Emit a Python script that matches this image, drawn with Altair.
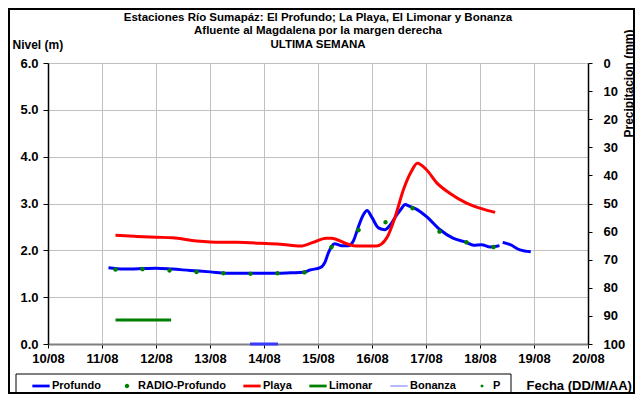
import math
import altair as alt
import pandas as pd

# ---------------- data ----------------
# Profundo water level (m); day of August (fractional)
prof1_day = [11.12, 11.4, 11.75, 12.0, 12.3, 12.63, 13.0, 13.31, 13.86, 14.25, 14.5, 14.73,
             14.85, 15.04, 15.13, 15.19, 15.25, 15.31, 15.43, 15.56, 15.65, 15.75, 15.84,
             15.91, 15.99, 16.12, 16.24, 16.33, 16.46, 16.55, 16.61, 16.70, 16.82, 17.01,
             17.26, 17.50, 17.75, 17.88, 18.03, 18.19, 18.36]
prof1_val = [1.63, 1.60, 1.61, 1.62, 1.60, 1.57, 1.54, 1.51, 1.51, 1.51, 1.52, 1.53,
             1.58, 1.63, 1.75, 1.94, 2.08, 2.14, 2.10, 2.10, 2.19, 2.51, 2.76,
             2.85, 2.72, 2.48, 2.44, 2.53, 2.76, 2.90, 2.98, 2.94, 2.88, 2.72,
             2.44, 2.26, 2.17, 2.11, 2.12, 2.07, 2.10]
prof2_day = [18.42, 18.56, 18.74, 18.94]
prof2_val = [2.17, 2.12, 2.01, 1.97]

# RADIO-Profundo readings
radio_day = [11.25, 11.75, 12.25, 12.75, 13.25, 13.75, 14.25, 14.75, 15.25, 15.75,
             16.25, 16.75, 17.25, 17.75, 18.25]
radio_val = [1.59, 1.60, 1.57, 1.54, 1.51, 1.50, 1.51, 1.53, 2.07, 2.43,
             2.60, 2.90, 2.40, 2.17, 2.07]

# Playa
playa_day = [11.25, 11.6, 12.0, 12.3, 12.75, 13.0, 13.5, 13.93, 14.3, 14.67, 14.91,
             15.15, 15.25, 15.53, 15.72, 16.08, 16.27, 16.43, 16.58, 16.73, 16.84,
             17.01, 17.20, 17.44, 17.75, 18.06, 18.28]
playa_val = [2.32, 2.30, 2.28, 2.27, 2.20, 2.18, 2.17, 2.15, 2.13, 2.09, 2.17,
             2.26, 2.26, 2.14, 2.09, 2.09, 2.26, 2.72, 3.29, 3.69, 3.86,
             3.72, 3.44, 3.22, 3.01, 2.88, 2.81]

# Limonar
limonar_day = [11.25, 11.75, 12.28]
limonar_val = [0.51, 0.51, 0.51]

# Bonanza
bonanza_day = [13.74, 14.26]
bonanza_val = [0.0, 0.0]

# P (precipitation, mm) - no readings in the week
p_day = []
p_mm = []

series = ["Profundo", "RADIO-Profundo", "Playa", "Limonar", "Bonanza", "P"]
series_colors = ["#0000ff", "#008000", "#ff0000", "#008000", "#5a5aff", "#008000"]
line_series = ["Profundo", "Playa", "Limonar", "Bonanza"]
line_colors = ["#0000ff", "#ff0000", "#008000", "#3a3aff"]
line_widths = [3, 3, 3, 1]
x_ticks = list(range(10, 21))
y_ticks = [i * 0.5 for i in range(13)]
p_ticks = list(range(0, 101, 10))

title_lines = ["Estaciones Río Sumapáz: El Profundo; La Playa, El Limonar y Bonanza",
               "Afluente al Magdalena por la margen derecha",
               "ULTIMA SEMANA"]

FONT = "Liberation Sans"

# ---------------- tables ----------------
def rows(name, seg, days, vals):
    return [{"serie": name, "seg": seg, "day": d, "nivel": v} for d, v in zip(days, vals)]

lines_df = pd.DataFrame(
    rows("Limonar", 1, limonar_day, limonar_val)
    + rows("Bonanza", 1, bonanza_day, bonanza_val)
    + rows("Profundo", 1, prof1_day, prof1_val)
    + rows("Profundo", 2, prof2_day, prof2_val)
    + rows("Playa", 1, playa_day, playa_val)
)
radio_df = pd.DataFrame({"serie": ["RADIO-Profundo"] * len(radio_day),
                         "day": radio_day, "nivel": radio_val})
p_df = pd.DataFrame({"day": pd.Series(p_day, dtype=float), "mm": pd.Series(p_mm, dtype=float)})

# legend symbol shapes (normalised paths)
def poly(r, n=16):
    pts = [(r * math.cos(2 * math.pi * k / n), r * math.sin(2 * math.pi * k / n)) for k in range(n)]
    return "M" + "L".join(f"{x:.3f},{y:.3f}" for x, y in pts) + "Z"

thick = "M-1,-0.16L1,-0.16L1,0.16L-1,0.16Z"
thin = "M-1,-0.05L1,-0.05L1,0.05L-1,0.05Z"
shape_range = [thick, poly(0.26), thick, thick, thin, poly(0.17)]

color_scale = alt.Scale(domain=series, range=series_colors)
legend = alt.Legend(title=None, orient="none", legendX=-16, legendY=314,
                    direction="horizontal", columns=6, symbolSize=300,
                    symbolStrokeWidth=0, labelFont=FONT, labelFontSize=11,
                    labelFontWeight="bold", labelColor="black", labelOffset=2,
                    columnPadding=17, padding=0, labelLimit=200)

x_enc = alt.X("day:Q", scale=alt.Scale(domain=[10, 20], nice=False, zero=False),
              axis=alt.Axis(values=x_ticks, labelExpr="datum.value + '/08'",
                            grid=True, gridColor="#c0c0c0", gridWidth=1,
                            domainColor="#808080", domainWidth=2,
                            tickColor="black", tickSize=4, labelPadding=4,
                            labelFontSize=13, labelFlush=False,
                            title="Fecha (DD/M/AA)", titleX=478, titleY=41,
                            titleAlign="left", titleBaseline="middle",
                            titleFontSize=13))
y_enc = alt.Y("nivel:Q", scale=alt.Scale(domain=[0, 6], nice=False),
              axis=alt.Axis(values=y_ticks,
                            labelExpr="datum.value % 1 === 0 ? format(datum.value, '.1f') : ''",
                            grid=True, gridColor="#c0c0c0", gridWidth=1,
                            tickOpacity={"condition": {"test": "datum.value % 1 === 0", "value": 1}, "value": 0},
                            tickSize=5, tickColor="black", domainColor="black",
                            domainWidth=1.5, labelPadding=5, labelFontSize=13,
                            labelFlush=False,
                            title="Nivel (m)", titleAngle=0, titleX=-36, titleY=-19,
                            titleAlign="left", titleBaseline="middle", titleFontSize=12))

lines = alt.Chart(lines_df).mark_line(interpolate="monotone").encode(
    x=x_enc, y=y_enc,
    stroke=alt.Stroke("serie:N", scale=alt.Scale(domain=line_series, range=line_colors),
                      legend=None),
    strokeWidth=alt.StrokeWidth("serie:N",
                                scale=alt.Scale(domain=line_series, range=line_widths),
                                legend=None),
    detail="seg:N",
)

radio = alt.Chart(radio_df).mark_point(filled=True, opacity=1, size=300, strokeWidth=0).encode(
    x="day:Q", y="nivel:Q",
    color=alt.Color("serie:N", scale=color_scale, legend=legend),
    shape=alt.Shape("serie:N", scale=alt.Scale(domain=series, range=shape_range), legend=legend),
)

legend_box = alt.Chart(alt.Data(values=[{"k": 1}])).mark_rect(
    fill="transparent", stroke="black", strokeWidth=1
).encode(x=alt.value(-32), x2=alt.value(463), y=alt.value(311), y2=alt.value(330))

outer = alt.Chart(alt.Data(values=[{"k": 1}])).mark_rect(
    fill="transparent", stroke="black", strokeWidth=2
).encode(x=alt.value(-39), x2=alt.value(586), y=alt.value(-54), y2=alt.value(330))

levels = alt.layer(lines, radio, legend_box, outer)

precip = alt.Chart(p_df).mark_point(filled=True, color="#008000", opacity=1, size=10).encode(
    x="day:Q",
    y=alt.Y("mm:Q", scale=alt.Scale(domain=[0, 100], reverse=True, nice=False),
            axis=alt.Axis(orient="right", values=p_ticks, grid=False, tickSize=4,
                          tickColor="black", domainColor="black", domainWidth=1.5,
                          labelPadding=11, labelAlign="left", labelFontSize=13,
                          labelFlush=False,
                          title="Precipitacion (mm)", titleAngle=270, titleX=40, titleY=20,
                          titleAlign="center", titleBaseline="middle", titleFontSize=12)),
)

chart = alt.layer(levels, precip).resolve_scale(y="independent").properties(
    width=540, height=281,
    padding={"left": 40, "top": 55, "right": 47, "bottom": 50},
    autosize=alt.AutoSizeParams(type="none"),
    title=alt.TitleParams(text=title_lines, font=FONT, fontSize=11.5, fontWeight="bold",
                          color="black", lineHeight=13.5, offset=-42, anchor="middle",
                          frame="group"),
).configure(font=FONT).configure_axis(
    labelFont=FONT, labelFontWeight="bold", labelColor="black",
    titleFont=FONT, titleFontWeight="bold", titleColor="black",
).configure_view(stroke=None)

chart.save("out.html", embed_options={"renderer": "svg", "actions": False})
